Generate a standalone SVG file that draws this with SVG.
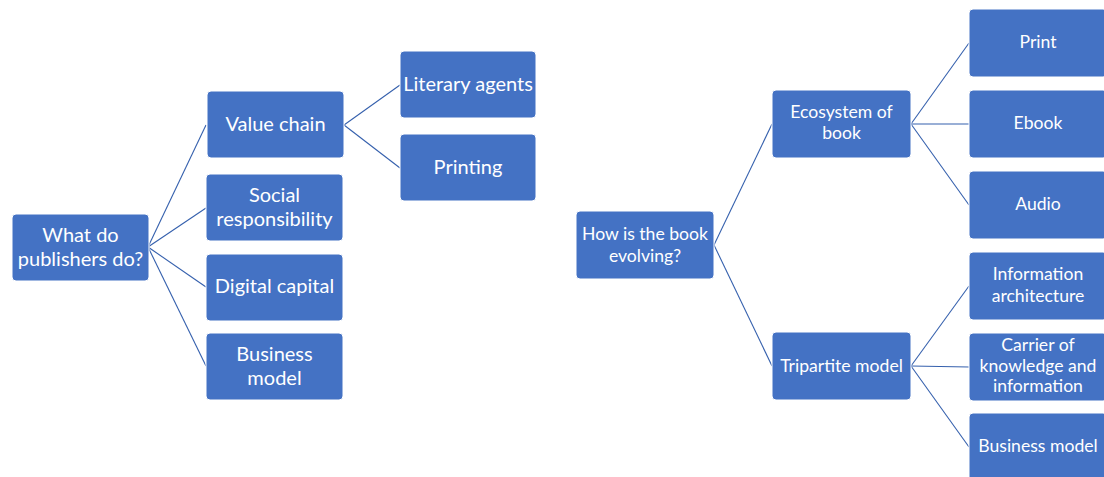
<svg xmlns="http://www.w3.org/2000/svg" width="1104" height="477" viewBox="0 0 1104 477">
<style>
.n rect{fill:#4472C4;stroke:#ffffff;stroke-width:1}
.n text{fill:#ffffff;font-family:Lato,"Liberation Sans",sans-serif;text-anchor:middle}
.l text{font-size:20px}
.r text{font-size:17.6px}
#connectors line{stroke:#3560AD;stroke-width:1.1}
</style>
<rect width="1104" height="477" fill="#ffffff"/>
<g id="connectors">
<line x1="148" y1="247" x2="206" y2="125"/>
<line x1="148" y1="247" x2="206" y2="208"/>
<line x1="148" y1="247" x2="206" y2="287"/>
<line x1="148" y1="247" x2="206" y2="366"/>
<line x1="344" y1="125" x2="400" y2="85"/>
<line x1="344" y1="125" x2="400" y2="168"/>
<line x1="714" y1="245" x2="772" y2="124"/>
<line x1="714" y1="245" x2="772" y2="366"/>
<line x1="911" y1="124" x2="969" y2="43"/>
<line x1="911" y1="124" x2="969" y2="124"/>
<line x1="911" y1="124" x2="969" y2="205"/>
<line x1="911" y1="366" x2="969" y2="286"/>
<line x1="911" y1="366" x2="969" y2="367"/>
<line x1="911" y1="366" x2="969" y2="447"/>
</g>
<g id="n-root-left" class="n l"><rect x="12" y="214" width="137" height="67" rx="4"/><text x="80.5" y="242">What do</text><text x="80.5" y="266">publishers do?</text></g>
<g id="n-value-chain" class="n l"><rect x="207" y="91" width="137" height="67" rx="4"/><text x="275.5" y="131">Value chain</text></g>
<g id="n-social" class="n l"><rect x="206" y="174" width="137" height="67" rx="4"/><text x="274.5" y="202">Social</text><text x="274.5" y="226">responsibility</text></g>
<g id="n-digital" class="n l"><rect x="206" y="254" width="137" height="67" rx="4"/><text x="274.5" y="293">Digital capital</text></g>
<g id="n-business-left" class="n l"><rect x="206" y="333" width="137" height="67" rx="4"/><text x="274.5" y="361">Business</text><text x="274.5" y="385">model</text></g>
<g id="n-literary" class="n l"><rect x="400" y="51" width="136" height="67" rx="4"/><text x="468" y="91">Literary agents</text></g>
<g id="n-printing" class="n l"><rect x="400" y="134" width="136" height="67" rx="4"/><text x="468" y="174">Printing</text></g>
<g id="n-root-right" class="n r"><rect x="576" y="211" width="138" height="68" rx="4"/><text x="645" y="240">How is the book</text><text x="645" y="262">evolving?</text></g>
<g id="n-ecosystem" class="n r"><rect x="772" y="90" width="139" height="68" rx="4"/><text x="841.5" y="118">Ecosystem of</text><text x="841.5" y="139">book</text></g>
<g id="n-tripartite" class="n r"><rect x="772" y="332" width="139" height="68" rx="4"/><text x="841.5" y="372">Tripartite model</text></g>
<g id="n-print" class="n r"><rect x="969" y="9" width="138" height="68" rx="4"/><text x="1038" y="48">Print</text></g>
<g id="n-ebook" class="n r"><rect x="969" y="90" width="138" height="68" rx="4"/><text x="1038" y="129">Ebook</text></g>
<g id="n-audio" class="n r"><rect x="969" y="171" width="138" height="68" rx="4"/><text x="1038" y="210">Audio</text></g>
<g id="n-info" class="n r"><rect x="969" y="252" width="138" height="68" rx="4"/><text x="1038" y="280">Information</text><text x="1038" y="302">architecture</text></g>
<g id="n-carrier" class="n r"><rect x="969" y="333" width="138" height="68" rx="4"/><text x="1038" y="351">Carrier of</text><text x="1038" y="372">knowledge and</text><text x="1038" y="392">information</text></g>
<g id="n-business-right" class="n r"><rect x="969" y="413" width="138" height="68" rx="4"/><text x="1038" y="452">Business model</text></g>
</svg>
